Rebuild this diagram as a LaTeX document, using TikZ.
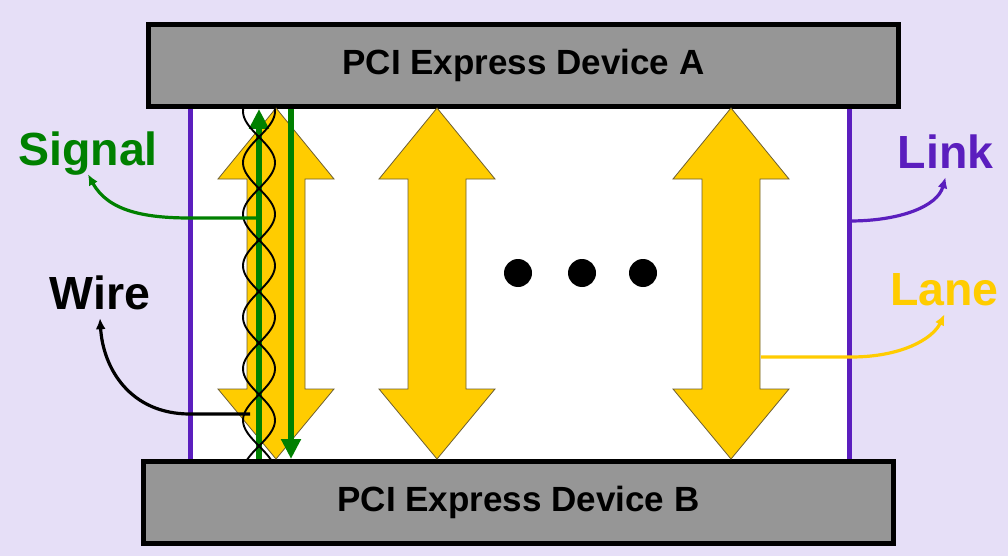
\documentclass[tikz,border=0pt]{standalone}
\usepackage{fontspec}
\setmainfont{Liberation Sans}
\usetikzlibrary{arrows.meta}
\definecolor{lavender}{RGB}{230,223,247}
\definecolor{boxgray}{RGB}{150,150,150}
\definecolor{lanegold}{RGB}{255,204,0}
\definecolor{lanerim}{RGB}{110,95,50}
\definecolor{linkpurple}{RGB}{91,30,190}
\definecolor{signalgreen}{RGB}{0,128,0}
\begin{document}
\begin{tikzpicture}[x=1pt,y=-1pt,
	device/.style={draw=black,line width=5pt,fill=boxgray,minimum width=750pt,minimum height=82pt,inner sep=0pt,font=\bfseries\fontsize{35}{40}\selectfont},
	termname/.style={anchor=base,inner sep=0pt,text depth=9pt,font=\bfseries\fontsize{46.5}{50}\selectfont},
	lanearrow/.style={fill=lanegold,draw=lanerim,line width=0.8pt},
	sigarrow/.style={signalgreen,line width=6pt,-{Triangle[length=20pt,width=19pt]}},
	pointer/.style={line width=3.2pt,-{Latex[length=11pt,width=10pt]}},
	twist/.style={black,line width=1.9pt}]
	\fill[lavender] (0,0) rectangle (1008,556);
	\useasboundingbox (0,0) rectangle (1008,556);
	
	\fill[white] (190,106) rectangle (849.5,461);
	\draw[linkpurple,line width=5pt] (190,106) -- (190,461);
	\draw[linkpurple,line width=5pt] (849.5,106) -- (849.5,461);
	
	\node[device] (devA) at (523.5,65.5) {PCI Express Device A};
	\node[device] (devB) at (518.5,502.5) {PCI Express Device B};
	
	\foreach \c in {276,437,731}
		\draw[lanearrow] (\c,108) -- (\c+58,179) -- (\c+29,179) -- (\c+29,389) -- (\c+58,389) -- (\c,459)
			-- (\c-58,389) -- (\c-29,389) -- (\c-29,179) -- (\c-58,179) -- cycle;
	\foreach \d in {518,582,643}
		\fill[black] (\d,273) circle [radius=14];
	
	\coordinate (upline) at (259,0);
	\coordinate (downline) at (291,0);
	\draw[sigarrow] (devB.north -| upline) -- (devA.south -| upline);
	\draw[sigarrow] (devA.south -| downline) -- (devB.north -| downline);
	
	\draw[twist] plot[domain=107:462,samples=140,variable=\t] ({259+16*sin(3.4951*(\t-137))},\t);
	\draw[twist] plot[domain=107:462,samples=140,variable=\t] ({259-16*sin(3.4951*(\t-137))},\t);
	
	\node[termname,signalgreen] (signal) at (88,165) {Signal};
	\node[termname,black] (wire) at (100,309) {Wire};
	\node[termname,linkpurple] (link) at (945.5,168) {Link};
	\node[termname,lanegold] (lane) at (944.5,305) {Lane};
	
	\coordinate (sigtap) at (257,218);
	\coordinate (wiretap) at (250,414);
	\coordinate (linkside) at (849.5,221);
	\coordinate (lanetap) at (761,357);
	\draw[pointer,signalgreen] (sigtap) -- ++(-67,0) .. controls +(-45,0) and +(20,37) .. (signal.south);
	\draw[pointer,black] (wiretap) -- ++(-60,0) .. controls +(-60,0) and +(3,50) .. (wire.south);
	\draw[pointer,linkpurple] (linkside) .. controls +(51,0) and +(-8,29) .. (link.south);
	\draw[pointer,lanegold] (lanetap) -- ++(90,0) .. controls +(50,0) and +(-12,25) .. (lane.south);
\end{tikzpicture}
\end{document}
